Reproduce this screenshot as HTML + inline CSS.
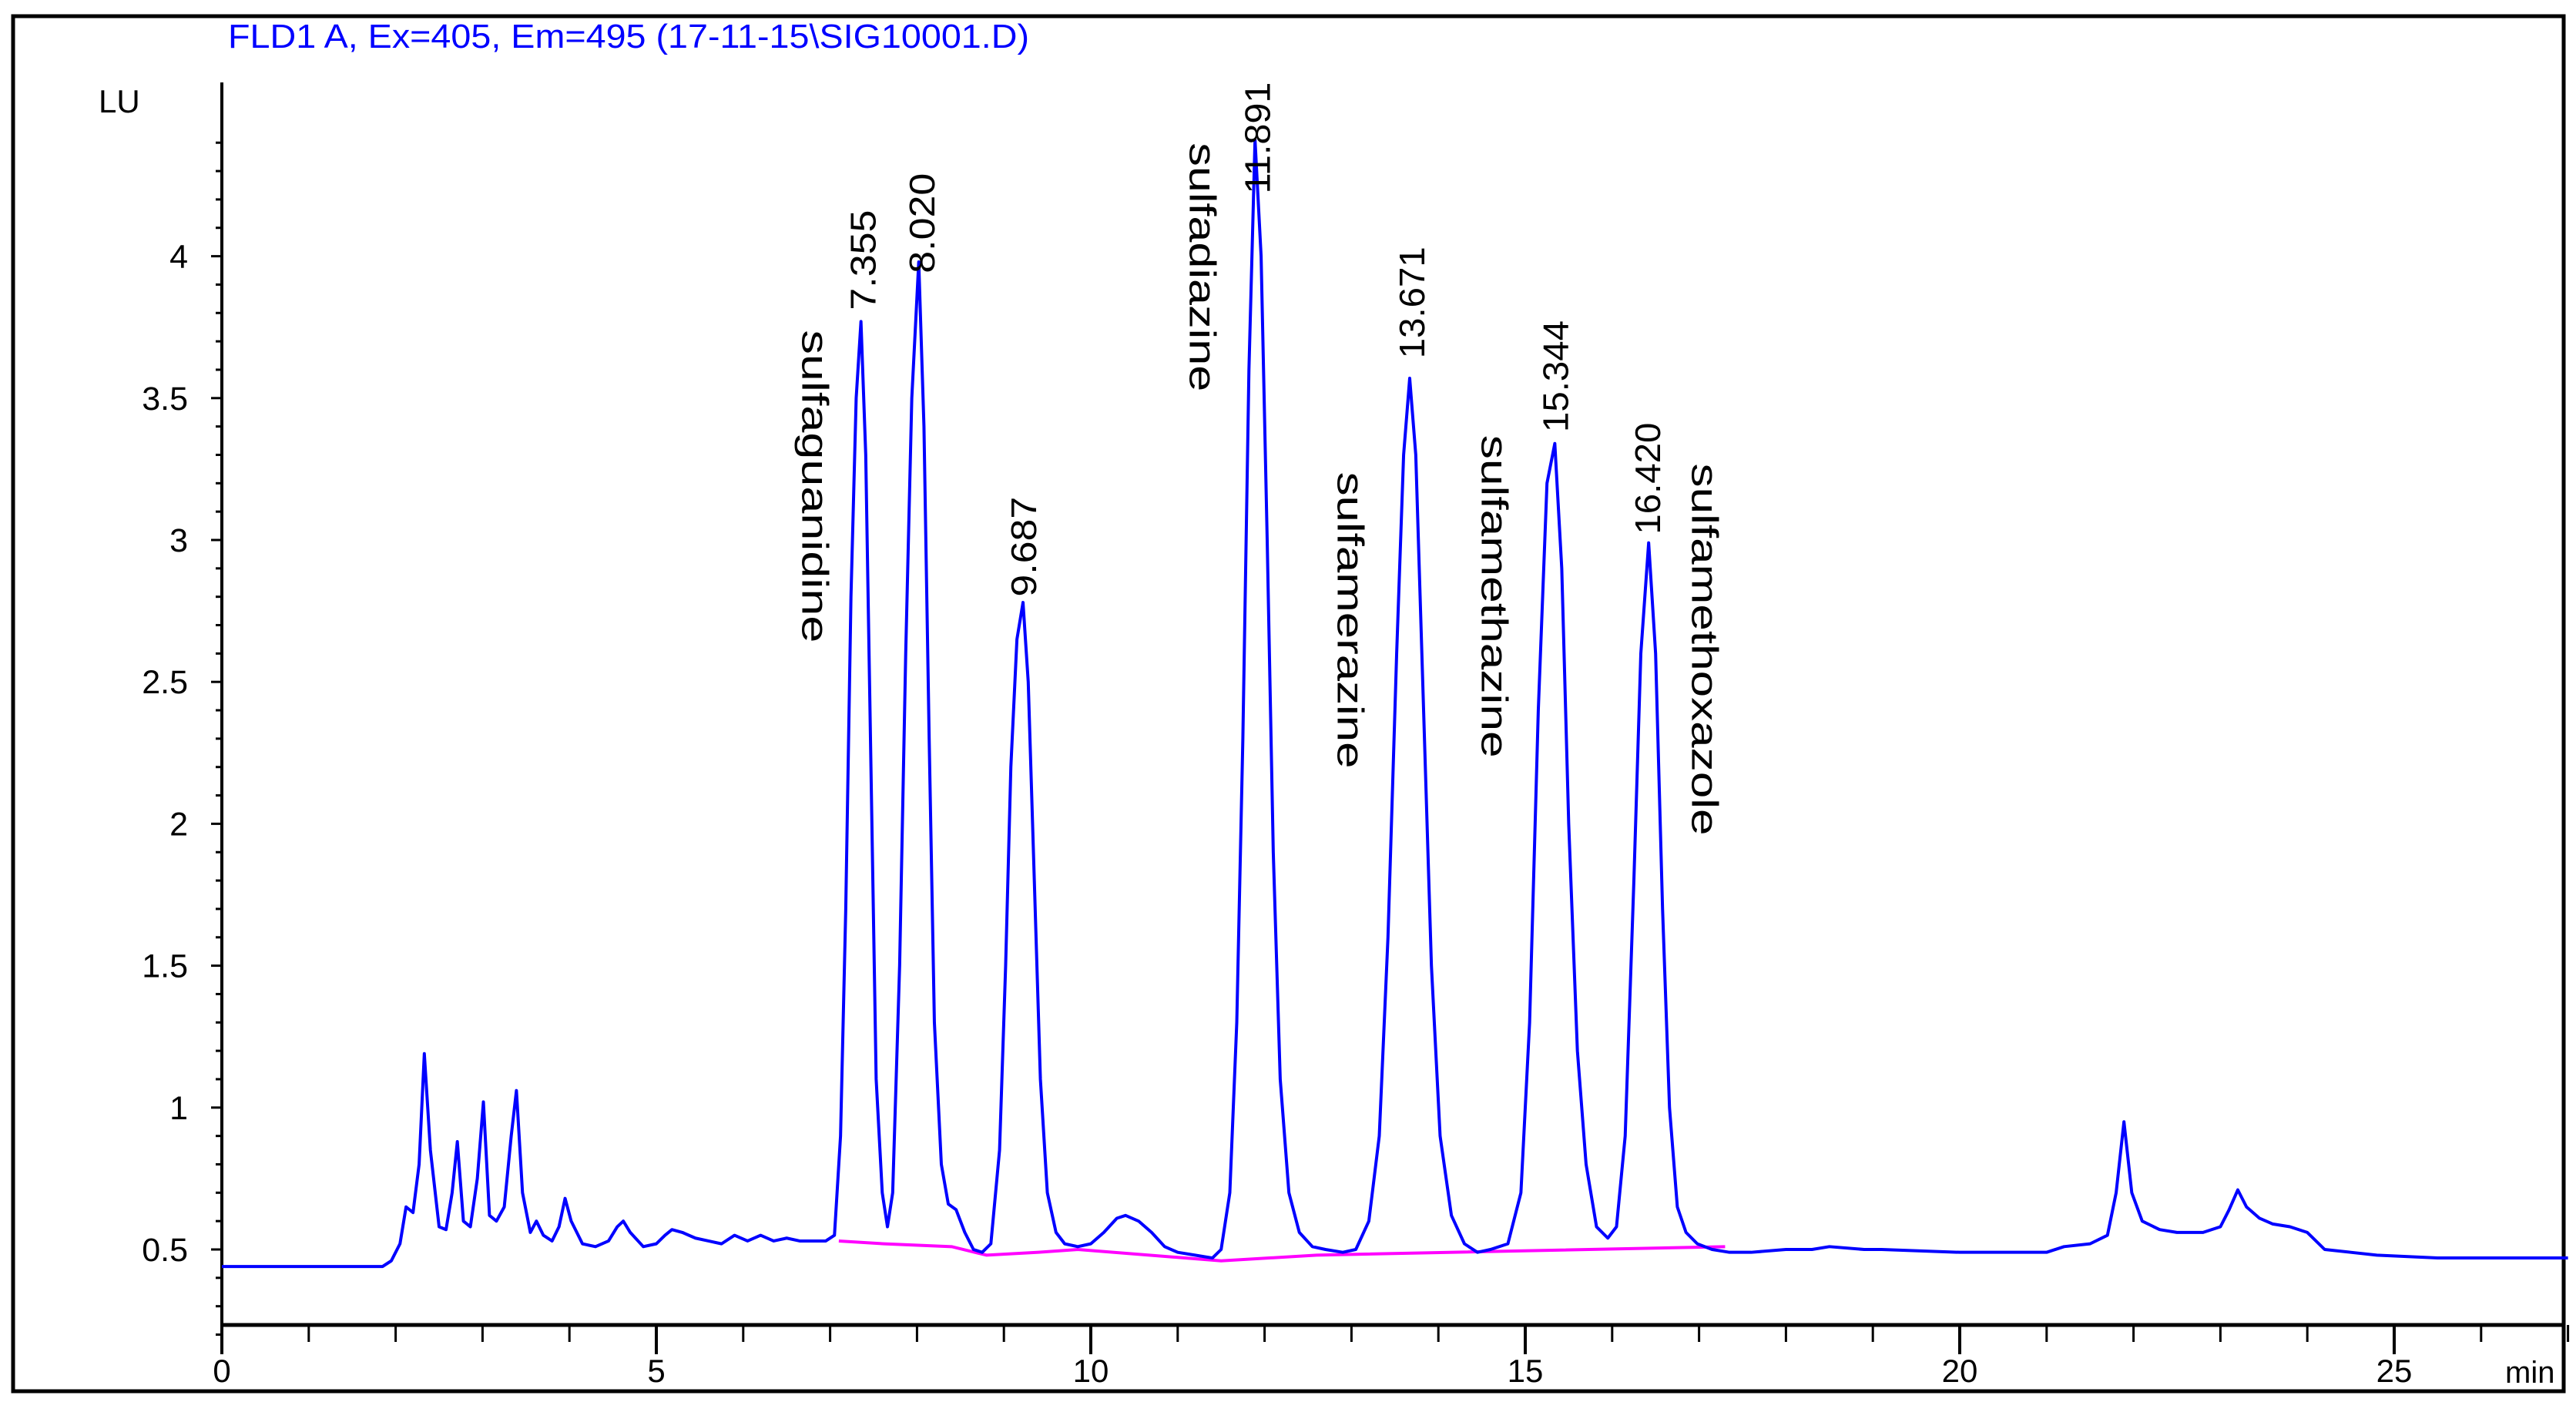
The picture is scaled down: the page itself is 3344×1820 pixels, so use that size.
<!DOCTYPE html>
<html><head><meta charset="utf-8"><style>
html,body{margin:0;padding:0;background:#fff;}
svg{display:block;font-family:"Liberation Sans",sans-serif;}
</style></head><body>
<svg id="chart" width="3344" height="1820" viewBox="0 0 3344 1820" xmlns="http://www.w3.org/2000/svg">
<rect x="17" y="21" width="3311" height="1785" fill="#fff" stroke="#000" stroke-width="5"/>
<text x="296" y="62" font-size="44" textLength="1040" lengthAdjust="spacingAndGlyphs" fill="#0000ff">FLD1 A, Ex=405, Em=495 (17-11-15\SIG10001.D)</text>
<text x="128" y="146" font-size="42" fill="#000">LU</text>
<text x="3252" y="1795" font-size="40" fill="#000">min</text>
<g id="axes"></g>
<g id="baseline"></g>
<g id="trace"></g>
<g id="labels"></g>
</svg>
<script>
const xTicks=[0,5,10,15,20,25];
const yTicks=[0.5,1,1.5,2,2.5,3,3.5,4];
const times=[0,1.85,1.95,2.05,2.12,2.2,2.27,2.33,2.4,2.5,2.58,2.65,2.71,2.78,2.86,2.94,3.01,3.08,3.16,3.25,3.33,3.39,3.46,3.55,3.62,3.7,3.8,3.88,3.95,4.02,4.15,4.3,4.45,4.55,4.62,4.7,4.85,5.0,5.1,5.18,5.3,5.45,5.6,5.75,5.9,6.05,6.2,6.35,6.5,6.65,6.8,6.95,7.05,7.12,7.18,7.24,7.3,7.355,7.41,7.47,7.53,7.6,7.66,7.72,7.8,7.87,7.94,8.02,8.08,8.14,8.2,8.28,8.36,8.45,8.55,8.65,8.75,8.85,8.95,9.02,9.08,9.15,9.22,9.28,9.35,9.42,9.5,9.6,9.7,9.85,10.0,10.15,10.3,10.4,10.55,10.7,10.85,11.0,11.2,11.4,11.5,11.6,11.68,11.75,11.82,11.89,11.96,12.03,12.1,12.18,12.28,12.4,12.55,12.7,12.9,13.05,13.2,13.32,13.42,13.52,13.6,13.67,13.74,13.82,13.92,14.02,14.15,14.3,14.45,14.6,14.8,14.95,15.05,15.15,15.25,15.34,15.42,15.5,15.6,15.7,15.82,15.95,16.05,16.15,16.25,16.33,16.42,16.5,16.58,16.66,16.75,16.85,16.98,17.15,17.35,17.6,18.0,18.3,18.5,18.9,19.1,20.0,21.0,21.2,21.5,21.7,21.8,21.89,21.98,22.1,22.3,22.5,22.8,23.0,23.1,23.2,23.3,23.45,23.6,23.8,24.0,24.2,24.5,24.8,25.5,27];
const values=[0.44,0.44,0.46,0.52,0.65,0.63,0.8,1.19,0.85,0.58,0.57,0.7,0.88,0.6,0.58,0.75,1.02,0.62,0.6,0.65,0.9,1.06,0.7,0.56,0.6,0.55,0.53,0.58,0.68,0.6,0.52,0.51,0.53,0.58,0.6,0.56,0.51,0.52,0.55,0.57,0.56,0.54,0.53,0.52,0.55,0.53,0.55,0.53,0.54,0.53,0.53,0.53,0.55,0.9,1.7,2.8,3.5,3.77,3.3,2.2,1.1,0.7,0.58,0.7,1.5,2.6,3.5,3.98,3.4,2.3,1.3,0.8,0.66,0.64,0.56,0.5,0.49,0.52,0.85,1.5,2.2,2.65,2.78,2.5,1.8,1.1,0.7,0.56,0.52,0.51,0.52,0.56,0.61,0.62,0.6,0.56,0.51,0.49,0.48,0.47,0.5,0.7,1.3,2.3,3.6,4.41,4.0,3.0,1.9,1.1,0.7,0.56,0.51,0.5,0.49,0.5,0.6,0.9,1.6,2.6,3.3,3.57,3.3,2.5,1.5,0.9,0.62,0.52,0.49,0.5,0.52,0.7,1.3,2.4,3.2,3.34,2.9,2.0,1.2,0.8,0.58,0.54,0.58,0.9,1.8,2.6,2.99,2.6,1.7,1.0,0.65,0.56,0.52,0.5,0.49,0.49,0.5,0.5,0.51,0.5,0.5,0.49,0.49,0.51,0.52,0.55,0.7,0.95,0.7,0.6,0.57,0.56,0.56,0.58,0.64,0.71,0.65,0.61,0.59,0.58,0.56,0.5,0.49,0.48,0.47,0.47];
const baseTimes=[7.1,7.62,8.4,8.8,9.4,9.85,11.5,12.6,17.3];
const baseValues=[0.53,0.52,0.51,0.48,0.49,0.5,0.46,0.48,0.51];
const peakLabels=["7.355","8.020","9.687","11.891","13.671","15.344","16.420"];
const peakLabelTimes=[7.37,8.05,9.22,11.91,13.69,15.34,16.40];
const peakLabelAnchors=[3.81,3.94,2.80,4.22,3.64,3.38,3.02];
const compoundNames=["sulfaguanidine","sulfadiazine","sulfamerazine","sulfamethazine","sulfamethoxazole"];
const compoundTimes=[6.83,11.29,12.99,14.65,17.07];
const compoundTops=[3.74,4.40,3.24,3.37,3.27];

const X0=288, PXM=112.8, Y05=1622, PXL=368.4;
const xs=t=>X0+t*PXM;
const ys=v=>Y05-(v-0.5)*PXL;
const NS='http://www.w3.org/2000/svg';
function mk(tag,attrs,parent){const e=document.createElementNS(NS,tag);for(const k in attrs)e.setAttribute(k,attrs[k]);parent.appendChild(e);return e;}
const axes=document.getElementById('axes');
let e=mk('line',{x1:X0,y1:107,x2:X0,y2:1722,stroke:'#000','stroke-width':4},axes);


e=mk('line',{x1:X0,y1:1720,x2:3326,y2:1720,stroke:'#000','stroke-width':5},axes);


for(let i=0;i<=27;i++){const x=xs(i);const major=i%5===0;
 e=mk('line',{x1:x,y1:1720,x2:x,y2:major?1758:1742,stroke:'#000','stroke-width':major?4:3},axes);
 
 }
xTicks.forEach(t=>{e=mk('text',{x:xs(t),y:1794,'font-size':42,'text-anchor':'middle',fill:'#000'},axes);e.textContent=t;
 
 });
for(let k=2;k<=44;k++){const v=k/10;const y=ys(v);if(y<112)continue;const major=(k%5===0);
 e=mk('line',{x1:major?X0-14:X0-8,y1:y,x2:X0,y2:y,stroke:'#000','stroke-width':3},axes);
 
 }
yTicks.forEach(v=>{e=mk('text',{x:244,y:ys(v)+15,'font-size':43,'text-anchor':'end',fill:'#000'},axes);e.textContent=v;
 
 });
const bl=document.getElementById('baseline');
e=mk('polyline',{points:baseTimes.map((t,i)=>xs(t)+','+ys(baseValues[i])).join(' '),fill:'none',stroke:'#ff00ff','stroke-width':4},bl);


const tr=document.getElementById('trace');
e=mk('polyline',{points:times.map((t,i)=>xs(t)+','+ys(values[i])).join(' '),fill:'none',stroke:'#0000ff','stroke-width':4,'stroke-linejoin':'round'},tr);


const lb=document.getElementById('labels');
peakLabels.forEach((s,i)=>{const x=xs(peakLabelTimes[i])+17,y=ys(peakLabelAnchors[i]);
 e=mk('text',{x:0,y:0,'font-size':46,fill:'#000',textLength:s.length>5?145:130,lengthAdjust:'spacingAndGlyphs',transform:`translate(${x},${y}) rotate(-90)`},lb);e.textContent=s;
 
 });
const nameLens=[406,323,385,419,483];
compoundNames.forEach((n,i)=>{const x=xs(compoundTimes[i])-17,y=ys(compoundTops[i]);
 e=mk('text',{x:0,y:0,'font-size':48,fill:'#000',textLength:nameLens[i],lengthAdjust:'spacingAndGlyphs',transform:`translate(${x},${y}) rotate(90)`},lb);e.textContent=n;
 
 });
</script>
</body></html>
